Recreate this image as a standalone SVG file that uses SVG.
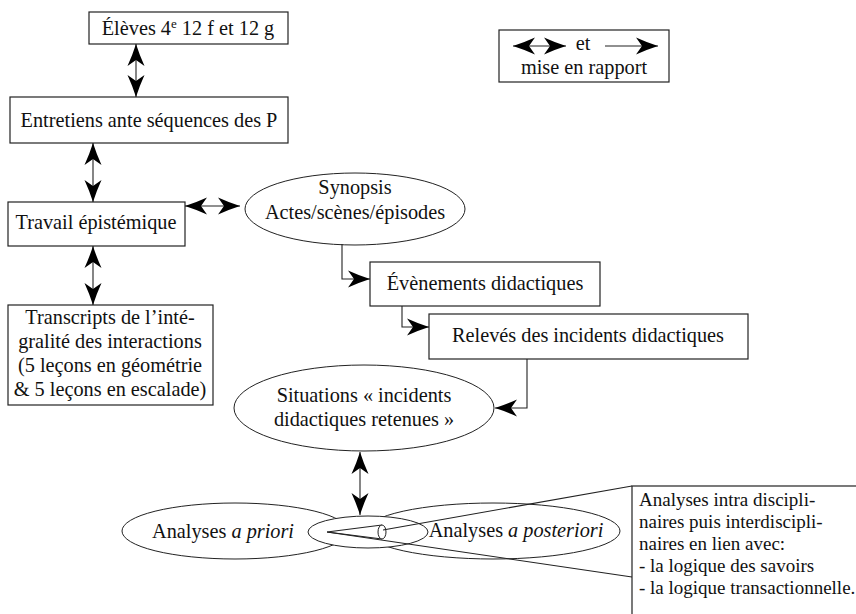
<svg xmlns="http://www.w3.org/2000/svg" width="856" height="614" viewBox="0 0 856 614">
<style>
text{font-family:'Liberation Serif','Times New Roman',serif;font-size:20.3px;fill:#111;}
.c{text-anchor:middle;}
.box{fill:#fff;stroke:#222;stroke-width:1.2;}
.ell{fill:none;stroke:#222;stroke-width:1;}
.ln{fill:none;stroke:#222;stroke-width:1.1;}
.i{font-style:italic;}
.sm{font-size:19px;}
</style>
<defs>
<marker id="ah" viewBox="-24 -10 25 20" refX="0" refY="0" markerWidth="25" markerHeight="20" markerUnits="userSpaceOnUse" orient="auto-start-reverse">
<path d="M0,0 Q-11,-3.5 -22,-8.5 L-16,0 L-22,8.5 Q-11,3.5 0,0 Z" fill="#000"/>
</marker>
</defs>

<g id="legend">
<rect class="box" x="499" y="30" width="170" height="52"/>
<path class="ln" d="M513,46 L566,46" marker-start="url(#ah)" marker-end="url(#ah)"/>
<text x="583" y="50" class="c">et</text>
<path class="ln" d="M605,46 L658,46" marker-end="url(#ah)"/>
<text x="584" y="74" class="c">mise en rapport</text>
</g>

<g id="n-eleves">
<rect class="box" x="89" y="12" width="199" height="32"/>
<text x="188" y="35" class="c">Élèves 4<tspan font-size="13" dy="-7">e</tspan><tspan dy="7"> 12 f et 12 g</tspan></text>
</g>

<g id="n-entretiens">
<rect class="box" x="10" y="97" width="278" height="46"/>
<text x="149" y="127" class="c">Entretiens ante séquences des P</text>
</g>

<g id="n-travail">
<rect class="box" x="8" y="202" width="177" height="44"/>
<text x="96" y="229" class="c">Travail épistémique</text>
</g>

<g id="n-transcripts">
<rect class="box" x="8" y="305" width="205" height="100"/>
<text x="110" y="324" class="c">Transcripts de l’inté-</text>
<text x="110" y="348" class="c">gralité des interactions</text>
<text x="110" y="372" class="c">(5 leçons en géométrie</text>
<text x="110" y="396" class="c">&amp; 5 leçons en escalade)</text>
</g>

<g id="n-synopsis">
<ellipse class="ell" cx="355" cy="209" rx="110" ry="36"/>
<text x="355" y="194" class="c">Synopsis</text>
<text x="355" y="219" class="c">Actes/scènes/épisodes</text>
</g>

<g id="n-evenements">
<rect class="box" x="370" y="262" width="230" height="44"/>
<text x="485" y="290" class="c">Évènements didactiques</text>
</g>

<g id="n-releves">
<rect class="box" x="429" y="314" width="319" height="45"/>
<text x="588" y="342" class="c">Relevés des incidents didactiques</text>
</g>

<g id="n-situations">
<ellipse class="ell" cx="364" cy="408" rx="130" ry="43"/>
<text x="364" y="402" class="c">Situations « incidents</text>
<text x="364" y="426" class="c">didactiques retenues »</text>
</g>

<g id="n-apriori">
<ellipse class="ell" cx="235" cy="531" rx="113" ry="28"/>
<text x="223" y="538" class="c">Analyses <tspan class="i">a priori</tspan></text>
</g>

<g id="n-aposteriori">
<ellipse class="ell" cx="493" cy="531" rx="127" ry="28"/>
<text x="516" y="537" class="c">Analyses <tspan class="i">a posteriori</tspan></text>
</g>

<g id="n-centre">
<ellipse cx="368" cy="532" rx="60" ry="16" fill="#fff" stroke="#222" stroke-width="1"/>
<path class="ln" d="M327,532 L382,525 M327,532 L382,539"/>
<ellipse cx="382" cy="532" rx="4" ry="7" fill="#fff" stroke="#222" stroke-width="1"/>
</g>

<g id="n-callout">
<path class="ln" d="M383,530 L632,486 M327,532 L632,577"/>
<rect class="box" x="632" y="486" width="240" height="140"/>
<text x="639" y="506" class="sm">Analyses intra discipli-</text>
<text x="639" y="528" class="sm">naires puis interdiscipli-</text>
<text x="639" y="550" class="sm">naires en lien avec:</text>
<text x="639" y="572" class="sm">- la logique des savoirs</text>
<text x="639" y="594" class="sm">- la logique transactionnelle.</text>
</g>

<g id="connectors">
<path class="ln" d="M136,44 L136,97" marker-start="url(#ah)" marker-end="url(#ah)"/>
<path class="ln" d="M93,143 L93,202" marker-start="url(#ah)" marker-end="url(#ah)"/>
<path class="ln" d="M185,206 L240,206" marker-start="url(#ah)" marker-end="url(#ah)"/>
<path class="ln" d="M93,246 L93,305" marker-start="url(#ah)" marker-end="url(#ah)"/>
<path class="ln" d="M342,244 L342,279 L370,279" marker-end="url(#ah)"/>
<path class="ln" d="M402,306 L402,327 L429,327" marker-end="url(#ah)"/>
<path class="ln" d="M527,359 L527,408 L495,408" marker-end="url(#ah)"/>
<path class="ln" d="M360,452 L360,515" marker-start="url(#ah)" marker-end="url(#ah)"/>
</g>
</svg>
